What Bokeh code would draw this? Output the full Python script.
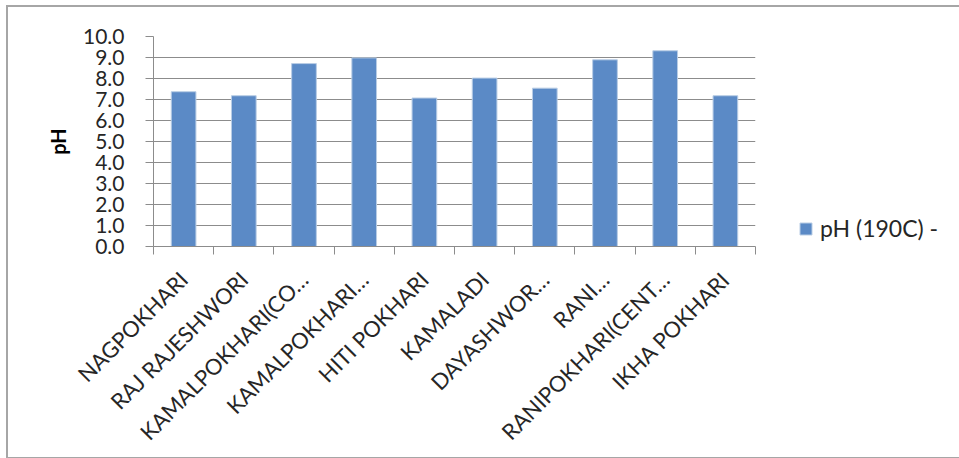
import math
from bokeh.plotting import figure
from bokeh.models import ColumnDataSource, FixedTicker, Range1d, Legend, LegendItem
from bokeh.embed import file_html
from bokeh.resources import INLINE

# Pond names as shown on the axis (long names shortened)
ponds = ["NAGPOKHARI", "RAJ RAJESHWORI", "KAMALPOKHARI(CO\u2026", "KAMALPOKHARI\u2026",
         "HITI POKHARI", "KAMALADI", "DAYASHWOR\u2026", "RANI\u2026",
         "RANIPOKHARI(CENT\u2026", "IKHA POKHARI"]
ph_values = [7.37, 7.18, 8.71, 8.98, 7.07, 8.02, 7.54, 8.89, 9.32, 7.18]
y_ticks = [0, 1, 2, 3, 4, 5, 6, 7, 8, 9, 10]
series_name = "pH (190C) -"

FONT = "Lato"
BAR = "#5B8AC6"
GRID = "#8C8C8C"

centers = [i + 0.5 for i in range(len(ponds))]
bounds = [float(i) for i in range(len(ponds) + 1)]
src = ColumnDataSource(dict(x=centers, top=ph_values))

p = figure(frame_width=602, frame_height=210, output_backend="svg", toolbar_location=None,
           x_range=Range1d(0, len(ponds)), y_range=Range1d(0, 10),
           min_border_left=145, min_border_right=205, min_border_top=29,
           min_border_bottom=210)
p.styles = {"margin-left": "6px", "margin-top": "5px", "border": "2px solid #A6A6A6"}
p.outline_line_color = None
p.background_fill_color = "white"
p.border_fill_color = "white"

r = p.vbar(x="x", top="top", width=0.41, bottom=0, source=src,
           fill_color=BAR, line_color="#B9CDE5", line_width=1)

# y axis
p.yaxis.ticker = FixedTicker(ticks=y_ticks)
p.yaxis.major_label_overrides = {t: f"{t:.1f}" for t in y_ticks}
p.yaxis.axis_line_color = GRID
p.yaxis.major_tick_line_color = GRID
p.yaxis.major_tick_out = 8
p.yaxis.major_tick_in = 0
p.yaxis.minor_tick_line_color = None
p.yaxis.major_label_text_font = FONT
p.yaxis.major_label_text_font_size = "21px"
p.yaxis.major_label_text_color = "#262626"
p.yaxis.major_label_standoff = 21
p.yaxis.axis_label = "pH"
p.yaxis.axis_label_text_font = FONT
p.yaxis.axis_label_text_font_style = "bold"
p.yaxis.axis_label_text_font_size = "20px"
p.yaxis.axis_label_text_color = "#000000"
p.yaxis.axis_label_standoff = 10

# x axis: labels at bar centres, tick marks between categories
p.xaxis.ticker = FixedTicker(ticks=centers, minor_ticks=bounds)
p.xaxis.major_label_overrides = {c: n for c, n in zip(centers, ponds)}
p.xaxis.major_label_orientation = math.pi / 4
p.xaxis.major_tick_line_color = None
p.xaxis.major_tick_out = 0
p.xaxis.major_tick_in = 0
p.xaxis.minor_tick_line_color = GRID
p.xaxis.minor_tick_out = 8
p.xaxis.minor_tick_in = 0
p.xaxis.axis_line_color = GRID
p.xaxis.major_label_text_font = FONT
p.xaxis.major_label_text_font_size = "22px"
p.xaxis.major_label_text_color = "#262626"
p.xaxis.major_label_standoff = 21

p.xgrid.grid_line_color = None
p.ygrid.grid_line_color = GRID
p.ygrid.grid_line_width = 1

# legend to the right of the bars, near the baseline
legend = Legend(items=[LegendItem(label=series_name, renderers=[r])],
                location=(43, 4), border_line_color=None, background_fill_alpha=0,
                label_text_font=FONT, label_text_font_size="23px",
                label_text_color="#262626", glyph_width=15, glyph_height=15,
                label_standoff=7, padding=0, margin=0)
p.add_layout(legend, "right")

open("out.html", "w").write(file_html(p, INLINE))
